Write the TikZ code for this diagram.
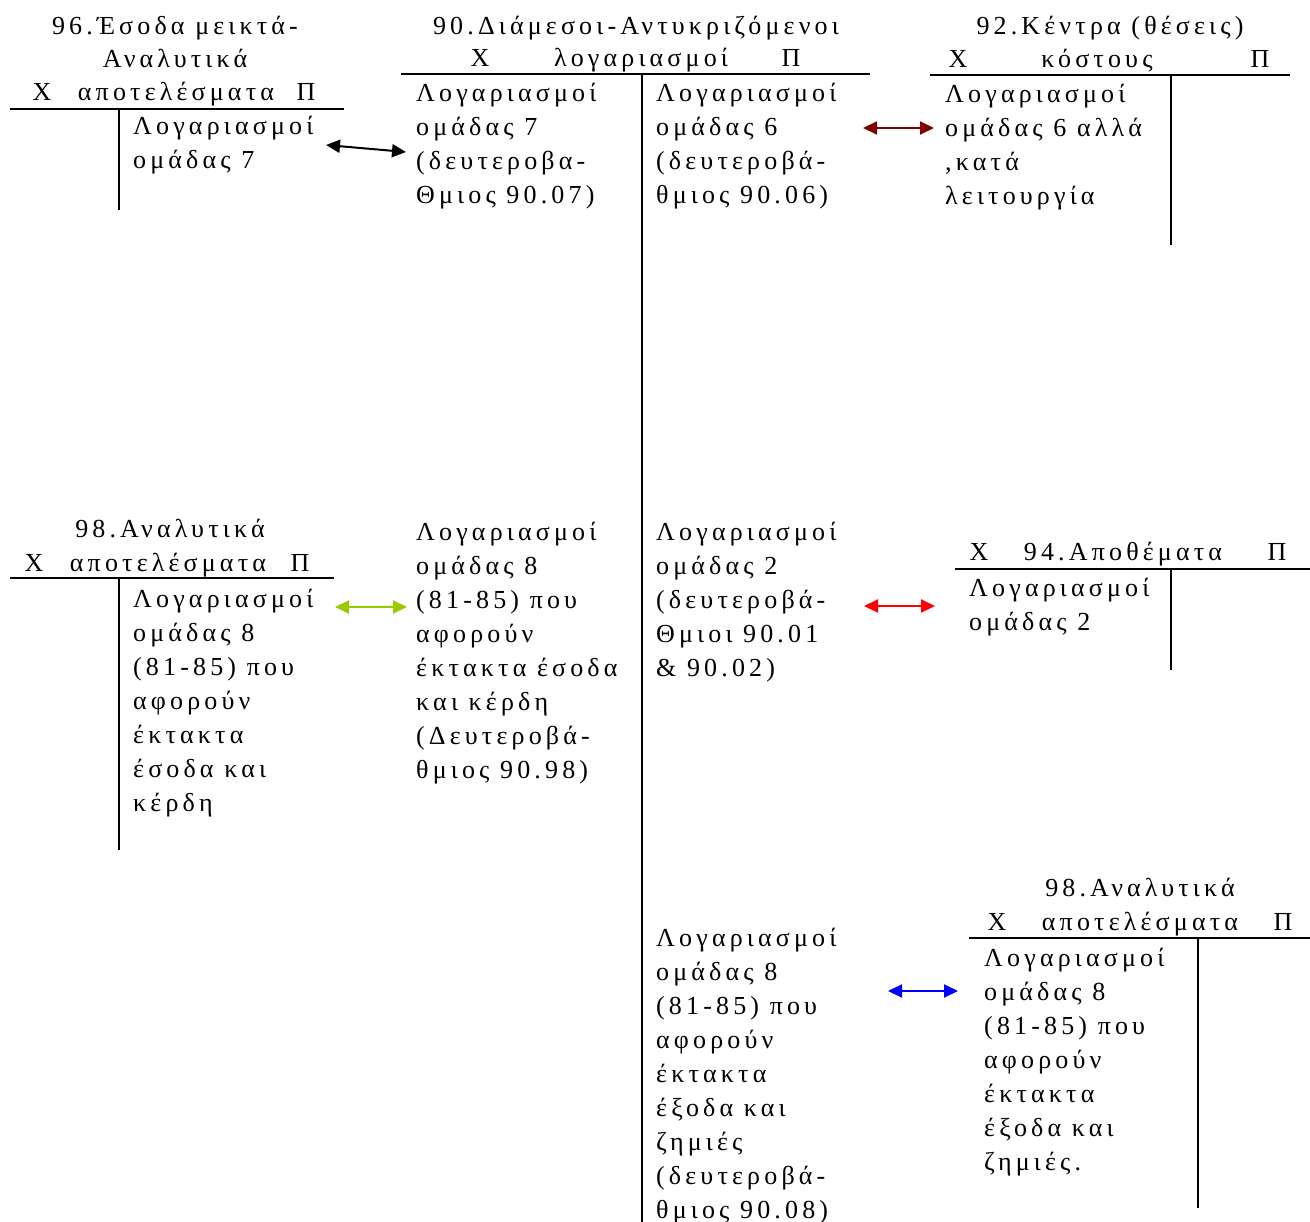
\documentclass[tikz,border=0pt]{standalone}
\usepackage{fontspec}
\setmainfont{Liberation Serif}[LetterSpace=16]
\usetikzlibrary{arrows.meta}
\definecolor{arrdarkred}{RGB}{128,0,0}
\definecolor{arrgreen}{RGB}{153,204,0}
\definecolor{arrred}{RGB}{255,0,0}
\definecolor{arrblue}{RGB}{0,0,255}
% multi-line block whose baseline is the first line
\newcommand\tlines[1]{\vtop{\halign{##\hfil\cr#1\crcr}}}
\tikzset{
  x=1pt, y=-1pt,
  txt/.style={inner sep=0pt, anchor=base west, font=\fontsize{26}{34}\selectfont},
  ctxt/.style={inner sep=0pt, anchor=base, font=\fontsize{26}{34}\selectfont},
  tline/.style={line width=2pt, black},
  link/.style={line width=2pt, {Triangle[length=14pt,width=13pt]}-{Triangle[length=14pt,width=13pt]}},
}
\begin{document}
\begin{tikzpicture}
\useasboundingbox (0,0) rectangle (1310,1222);

% ---- 96 Έσοδα μεικτά - Αναλυτικά αποτελέσματα
\node[ctxt] (t96a) at (175,35) {96.Έσοδα μεικτά-};
\node[ctxt] (t96b) at (175,68) {Αναλυτικά};
\node[ctxt] (t96c) at (176,101) {αποτελέσματα};
\node[ctxt] (x96) at (42,101) {Χ};
\node[ctxt] (p96) at (306,101) {Π};
\draw[tline] (10,109) -- (344,109) (119,109) -- (119,210);
\node[txt] (b96) at (133,135) {\tlines{Λογαριασμοί\cr ομάδας 7}};

% ---- 90 Διάμεσοι - Αντικριζόμενοι λογαριασμοί
\node[ctxt] (t90a) at (636,35) {90.Διάμεσοι-Αντυκριζόμενοι};
\node[ctxt] (t90b) at (641,67) {λογαριασμοί};
\node[ctxt] (x90) at (480,67) {Χ};
\node[ctxt] (p90) at (791,67) {Π};
\draw[tline] (401,74) -- (870,74) (642,74) -- (642,1222);
\node[txt] (b90a) at (416,102) {\tlines{Λογαριασμοί\cr ομάδας 7\cr (δευτεροβα-\cr Θμιος 90.07)}};
\node[txt] (b90b) at (656,102) {\tlines{Λογαριασμοί\cr ομάδας 6\cr (δευτεροβά-\cr θμιος 90.06)}};
\node[txt] (b90c) at (416,540) {\tlines{Λογαριασμοί\cr ομάδας 8\cr (81-85) που\cr αφορούν\cr έκτακτα έσοδα\cr και κέρδη\cr (Δευτεροβά-\cr θμιος 90.98)}};
\node[txt] (b90d) at (656,540) {\tlines{Λογαριασμοί\cr ομάδας 2\cr (δευτεροβά-\cr Θμιοι 90.01\cr \& 90.02)}};
\node[txt] (b90e) at (656,946) {\tlines{Λογαριασμοί\cr ομάδας 8\cr (81-85) που\cr αφορούν\cr έκτακτα\cr έξοδα και\cr ζημιές\cr (δευτεροβά-\cr θμιος 90.08)}};

% ---- 92 Κέντρα (θέσεις) κόστους
\node[ctxt] (t92a) at (1110,35) {92.Κέντρα (θέσεις)};
\node[ctxt] (t92b) at (1097,68) {κόστους};
\node[ctxt] (x92) at (958,68) {Χ};
\node[ctxt] (p92) at (1260,68) {Π};
\draw[tline] (930,75) -- (1290,75) (1171,75) -- (1171,245);
\node[txt] (b92) at (945,103) {\tlines{Λογαριασμοί\cr ομάδας 6 αλλά\cr ,κατά\cr λειτουργία}};

% ---- 98 Αναλυτικά αποτελέσματα (left)
\node[ctxt] (t98a) at (170,537) {98.Αναλυτικά};
\node[ctxt] (t98b) at (168,571) {αποτελέσματα};
\node[ctxt] (x98) at (34,571) {Χ};
\node[ctxt] (p98) at (300,571) {Π};
\draw[tline] (10,578) -- (334,578) (119,578) -- (119,850);
\node[txt] (b98) at (133,607) {\tlines{Λογαριασμοί\cr ομάδας 8\cr (81-85) που\cr αφορούν\cr έκτακτα\cr έσοδα και\cr κέρδη}};

% ---- 94 Αποθέματα
\node[ctxt] (t94) at (1123,560) {94.Αποθέματα};
\node[ctxt] (x94) at (979,560) {Χ};
\node[ctxt] (p94) at (1277,560) {Π};
\draw[tline] (955,569) -- (1310,569) (1171,569) -- (1171,670);
\node[txt] (b94) at (969,596) {\tlines{Λογαριασμοί\cr ομάδας 2}};

% ---- 98 Αναλυτικά αποτελέσματα (right)
\node[ctxt] (t98c) at (1140,896) {98.Αναλυτικά};
\node[ctxt] (t98d) at (1140,930) {αποτελέσματα};
\node[ctxt] (x98r) at (997,930) {Χ};
\node[ctxt] (p98r) at (1283,930) {Π};
\draw[tline] (969,938) -- (1310,938) (1198,938) -- (1198,1208);
\node[txt] (b98r) at (984,966) {\tlines{Λογαριασμοί\cr ομάδας 8\cr (81-85) που\cr αφορούν\cr έκτακτα\cr έξοδα και\cr ζημιές.}};

% ---- links between accounts
\coordinate (k1a) at (326,145); \coordinate (k1b) at (406,152);
\coordinate (k2a) at (863,128); \coordinate (k2b) at (934,128);
\coordinate (k3a) at (335,607); \coordinate (k3b) at (407,607);
\coordinate (k4a) at (864,606); \coordinate (k4b) at (935,606);
\coordinate (k5a) at (888,991); \coordinate (k5b) at (958,991);
\draw[link, black] (k1a) -- (k1b);
\draw[link, arrdarkred] (k2a) -- (k2b);
\draw[link, arrgreen] (k3a) -- (k3b);
\draw[link, arrred] (k4a) -- (k4b);
\draw[link, arrblue] (k5a) -- (k5b);
\end{tikzpicture}
\end{document}
